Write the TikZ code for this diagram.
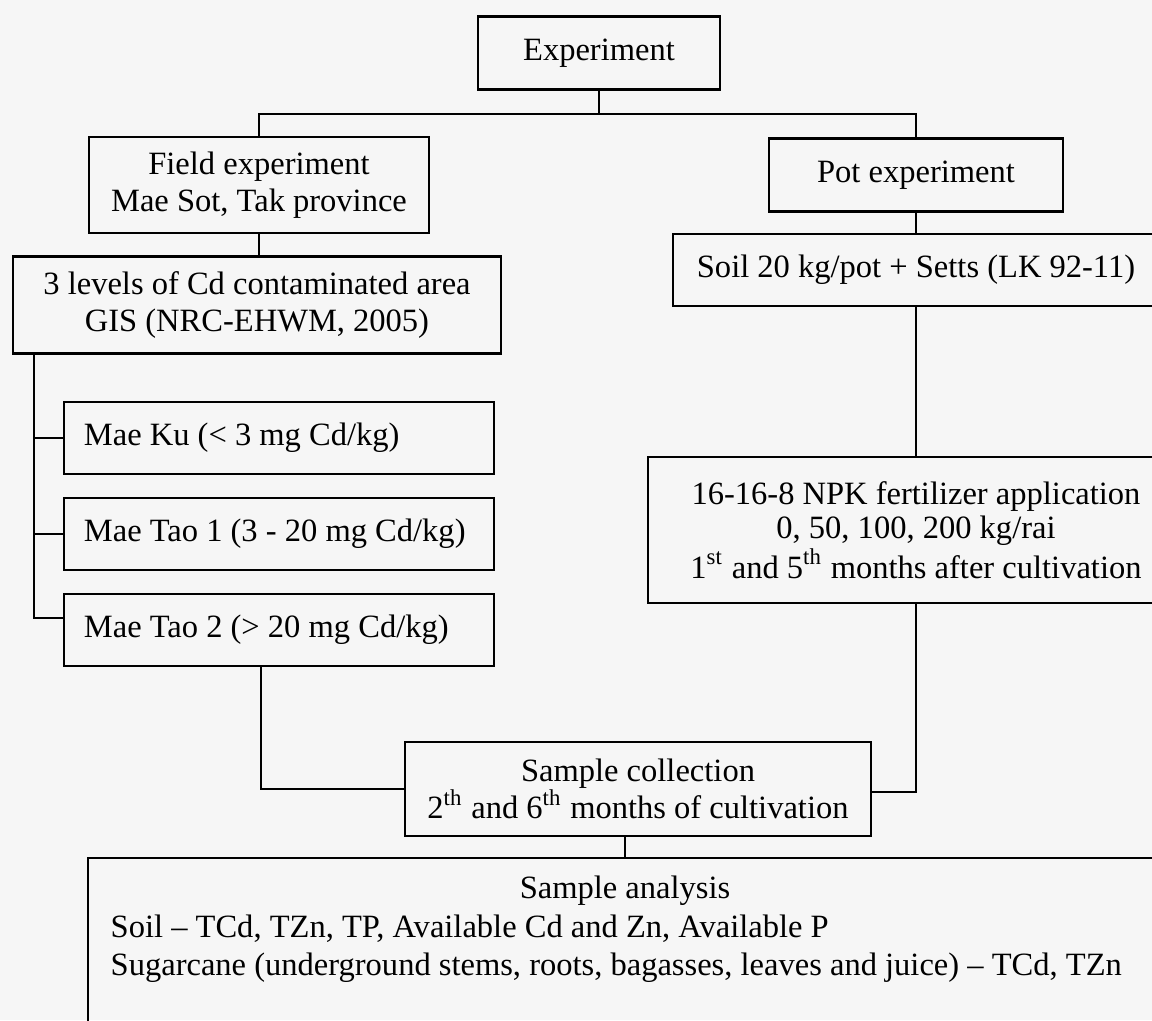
\documentclass[tikz,border=0pt]{standalone}
\usepackage{fontspec}
\setmainfont{Liberation Serif}
\usetikzlibrary{positioning}
\definecolor{bgscan}{gray}{0.965}

\begin{document}
\begin{tikzpicture}[x=0.01cm, y=-0.01cm,
font=\fontsize{9.25}{10.6}\selectfont,
line/.style={line width=0.55pt},
every node/.style={inner sep=0pt}]
\tikzstyle{bx} = [draw, line width=0.6pt, rectangle, align=center]
\tikzstyle{lbx} = [draw, line width=0.6pt, rectangle, align=flush left, text width=3.9cm, minimum width=4.3cm, minimum height=0.72cm]

\fill[bgscan] (0,0) rectangle (1152,1020);
\useasboundingbox (0,0) rectangle (1152,1020);
\clip (0,0) rectangle (1152,1020);

\node[bx, minimum width=2.42cm, minimum height=0.73cm] (exp) at (599,53) {Experiment};
\node[bx, minimum width=3.4cm, minimum height=0.96cm] (field) at (259,185) {Field experiment\\Mae Sot, Tak province};
\node[bx, minimum width=2.93cm, minimum height=0.73cm] (pot) at (916,175) {Pot experiment};
\node[bx, minimum width=4.88cm, minimum height=0.97cm] (levels) at (257,305) {3 levels of Cd contaminated area\\GIS (NRC-EHWM, 2005)};
\node[bx, minimum width=4.86cm, minimum height=0.72cm] (soil) at (916,270) {Soil 20 kg/pot + Setts (LK 92-11)};

\node[lbx] (maeku) at (279,438) {Mae Ku (< 3 mg Cd/kg)};
\node[lbx] (maetao1) at (279,534) {Mae Tao 1 (3 - 20 mg Cd/kg)};
\node[lbx] (maetao2) at (279,630) {Mae Tao 2 (> 20 mg Cd/kg)};

\node[bx, minimum width=5.36cm, minimum height=1.46cm, font=\fontsize{9.25}{9.6}\selectfont] (npk) at (916,530)
  {16-16-8 NPK fertilizer application\\0, 50, 100, 200 kg/rai\\1\textsuperscript{st} and 5\textsuperscript{th} months after cultivation};
\node[bx, minimum width=4.66cm, minimum height=0.94cm] (collect) at (638,789)
  {Sample collection\\2\textsuperscript{th} and 6\textsuperscript{th} months of cultivation};
\node[bx, minimum width=10.74cm, minimum height=1.82cm] (anal) at (625,949) {};

% analysis text
\node[anchor=base] (antitle) at (625,898) {Sample analysis};
\node[anchor=base west] (ansoil) at (110,937) {Soil – TCd, TZn, TP, Available Cd and Zn, Available P};
\node[anchor=base west] (ancane) at (110,975) {Sugarcane (underground stems, roots, bagasses, leaves and juice) – TCd, TZn};

\coordinate (bus) at (599,114);
\draw[line] (exp.south) -- (bus);
\draw[line] (field.north) |- (bus) -| (pot.north);
\draw[line] (field.south) -- (field.south |- levels.north);
\draw[line] (pot.south) -- (soil.north);
\draw[line] (soil.south) -- (npk.north);

\coordinate (spine) at ([xshift=2.2mm]levels.south west);
\draw[line] (spine) |- ([yshift=1.2mm]maetao2.west);
\draw[line] (maeku.west) -- (maeku.west -| spine);
\draw[line] (maetao1.west) -- (maetao1.west -| spine);

\draw[line] ([xshift=-1.8mm]maetao2.south) |- (collect.west);
\draw[line] (npk.south) |- ([yshift=-0.3mm]collect.east);
\draw[line] ([xshift=-1.3mm]collect.south) -- ([xshift=-1.3mm]collect.south |- anal.north);

\end{tikzpicture}
\end{document}
